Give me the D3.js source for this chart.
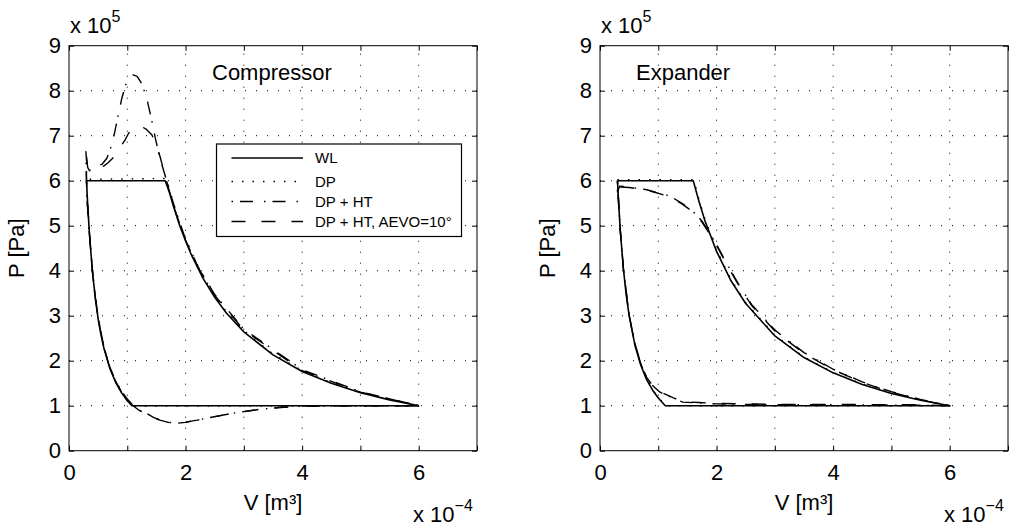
<!DOCTYPE html>
<html><head><meta charset="utf-8">
<script src="https://cdn.jsdelivr.net/npm/d3@7"></script>
<style>
body{margin:0;background:#fff;}
svg{display:block;font-family:"Liberation Sans",Arial,Helvetica,sans-serif;}
</style></head>
<body>
<svg id="chart" width="1018" height="527"></svg>
<script>
// Units: V in 1e-4 m^3, P in 1e5 Pa
const xTicks = [0,1,2,3,4,5,6,7];
const yTicks = [0,1,2,3,4,5,6,7,8,9];
const xTickLabels = ["0","","2","","4","","6",""];
const yTickLabels = ["0","1","2","3","4","5","6","7","8","9"];
const seriesNames = ["WL","DP","DP + HT","DP + HT, AEVO=10°"];
const panelTitles = ["Compressor","Expander"];

// Compressor
const compWL = [[6,1],[5.5,1.13],[5,1.29],[4.5,1.5],[4,1.76],[3.5,2.13],[3,2.64],[2.7,3.06],[2.5,3.41],[2.3,3.83],[2.1,4.35],[2,4.66],[1.9,5.0],[1.8,5.4],[1.72,5.75],[1.65,6.0],
  [0.3,6.0],[0.32,5.48],[0.35,4.83],[0.4,4.01],[0.45,3.4],[0.5,2.93],[0.55,2.57],[0.6,2.27],[0.7,1.83],[0.8,1.52],[0.9,1.29],[1.0,1.11],[1.08,1.0],[6,1]];
const compDP = [[6,1],[5.5,1.14],[5,1.3],[4.5,1.51],[4,1.78],[3.5,2.15],[3,2.67],[2.7,3.09],[2.5,3.45],[2.3,3.88],[2.1,4.41],[2,4.72],[1.9,5.07],[1.8,5.47],[1.72,5.82],[1.67,6.05],
  [0.3,6.03],[0.32,5.5],[0.35,4.86],[0.4,4.05],[0.45,3.44],[0.5,2.97],[0.55,2.6],[0.6,2.3],[0.7,1.85],[0.8,1.53],[0.9,1.3],[1.0,1.12],[1.1,0.99],[6,0.99]];
const compDPHT = [[6,1],[5,1.31],[4,1.8],[3,2.7],[2.5,3.47],[2.2,4.12],[2,4.7],[1.85,5.25],[1.72,5.8],[1.63,6.2],[1.56,6.5],[1.48,6.95],[1.41,7.4],[1.33,7.85],[1.25,8.15],[1.17,8.32],[1.1,8.35],[1.03,8.28],[0.97,8.12],[0.91,7.85],[0.85,7.5],[0.78,7.05],[0.72,6.75],[0.65,6.5],[0.57,6.37],[0.48,6.32],[0.4,6.27],[0.35,6.22],[0.32,6.3],[0.3,6.45],[0.29,6.65],
  [0.295,6.2],[0.31,5.6],[0.33,5.25],[0.37,4.5],[0.42,3.75],[0.5,2.95],[0.6,2.3],[0.7,1.86],[0.8,1.55],[0.9,1.32],[1.0,1.15],[1.1,1.01],[1.2,0.9],[1.34,0.82],[1.45,0.74],[1.56,0.68],[1.7,0.63],[1.85,0.61],[2.0,0.63],[2.2,0.68],[2.47,0.75],[2.8,0.83],[3.28,0.92],[3.6,0.96],[4.0,0.99],[5,1.0],[6,1]];
const compAEVO = [[6,1],[5,1.3],[4,1.78],[3,2.68],[2.5,3.45],[2.2,4.1],[2,4.68],[1.85,5.22],[1.72,5.78],[1.64,6.15],[1.57,6.5],[1.5,6.8],[1.42,7.02],[1.33,7.14],[1.25,7.2],[1.17,7.2],[1.1,7.17],[1.02,7.05],[0.96,6.9],[0.88,6.75],[0.82,6.64],[0.75,6.5],[0.67,6.4],[0.6,6.33],[0.5,6.27],[0.42,6.22],[0.36,6.19],[0.32,6.3],[0.3,6.55],
  [0.3,6.1],[0.31,5.55],[0.33,5.2],[0.37,4.48],[0.42,3.72],[0.5,2.93],[0.6,2.29],[0.7,1.85],[0.8,1.54],[0.9,1.31],[1.0,1.14],[1.1,1.0],[1.2,0.9],[1.34,0.81],[1.45,0.74],[1.56,0.68],[1.7,0.63],[1.85,0.615],[2.0,0.635],[2.2,0.68],[2.47,0.75],[2.8,0.83],[3.28,0.92],[3.6,0.96],[4.0,0.99],[5,1.0],[6,1]];

// Expander
const expWL = [[0.3,6.0],[1.6,6.0],[1.7,5.53],[1.8,5.11],[2.0,4.43],[2.25,3.77],[2.5,3.27],[3.0,2.55],[3.5,2.07],[4.0,1.73],[4.5,1.47],[5.0,1.27],[5.5,1.12],[6.0,1.0],
  [1.12,1.0],[1.0,1.17],[0.9,1.35],[0.8,1.58],[0.7,1.9],[0.6,2.34],[0.5,3.0],[0.45,3.46],[0.4,4.06],[0.35,4.86],[0.32,5.49],[0.3,6.0]];
const expDP = [[0.3,6.02],[1.61,6.02],[1.7,5.58],[1.8,5.15],[2.0,4.46],[2.25,3.8],[2.5,3.29],[3.0,2.57],[3.5,2.08],[4.0,1.74],[4.5,1.48],[5.0,1.28],[5.5,1.13],[6.0,1.0],
  [1.13,1.0],[1.0,1.18],[0.9,1.36],[0.8,1.59],[0.7,1.91],[0.6,2.35],[0.5,3.01],[0.45,3.47],[0.4,4.07],[0.35,4.87],[0.32,5.5],[0.3,6.02]];
const expDPHT = [[0.3,6.0],[0.3,5.75],[0.34,5.88],[0.5,5.86],[0.65,5.83],[0.8,5.8],[1.0,5.73],[1.2,5.66],[1.4,5.5],[1.55,5.37],[1.65,5.25],[1.75,5.1],[1.85,4.9],[2.0,4.58],[2.2,4.1],[2.4,3.65],[2.6,3.25],[3.0,2.68],[3.5,2.18],[4.0,1.81],[4.5,1.53],[5.0,1.31],[5.5,1.14],[6.0,1.0],
  [5.5,1.01],[5.0,1.01],[4.0,1.02],[3.0,1.02],[2.0,1.04],[1.7,1.06],[1.42,1.08],[1.25,1.17],[1.03,1.3],[0.89,1.46],[0.8,1.62],[0.7,1.93],[0.6,2.37],[0.5,3.0],[0.4,4.06],[0.35,4.86],[0.32,5.49],[0.3,6.0]];
const expAEVO = [[0.3,6.0],[0.3,5.73],[0.34,5.86],[0.5,5.85],[0.65,5.82],[0.8,5.79],[1.0,5.72],[1.2,5.64],[1.4,5.49],[1.55,5.35],[1.65,5.23],[1.75,5.08],[1.85,4.88],[2.0,4.56],[2.2,4.08],[2.4,3.63],[2.6,3.23],[3.0,2.66],[3.5,2.16],[4.0,1.8],[4.5,1.52],[5.0,1.3],[5.5,1.13],[6.0,1.0],
  [5.5,1.02],[5.0,1.02],[4.0,1.03],[3.0,1.03],[2.0,1.05],[1.7,1.07],[1.42,1.09],[1.25,1.18],[1.03,1.31],[0.89,1.47],[0.8,1.63],[0.7,1.94],[0.6,2.38],[0.5,3.01],[0.4,4.07],[0.35,4.87],[0.32,5.5],[0.3,6.0]];

const styles = [
  {dash:null, w:1.6, off:0},
  {dash:"1.5,9", w:1.4, off:0},
  {dash:"1.5,7,13,11", w:1.4, off:0},
  {dash:"14,16", w:1.4, off:11}
];

const svg = d3.select("#chart");
const font = '"Liberation Sans",Arial,Helvetica,sans-serif';

function panel(x0, x1, data, title, titleX, legend){
  const y0 = 45.7, y1 = 450.7;
  const x = d3.scaleLinear().domain([0,7]).range([x0,x1]);
  const y = d3.scaleLinear().domain([0,9]).range([y1,y0]);
  const g = svg.append("g");

  // grid
  const grid = g.append("g").attr("stroke","#000").attr("stroke-width",1).attr("stroke-dasharray","1,10");
  xTicks.slice(1,-1).forEach(t=>{
    grid.append("line").attr("x1",x(t)).attr("x2",x(t)).attr("y1",y1).attr("y2",y0);
  });
  yTicks.slice(1,-1).forEach(t=>{
    grid.append("line").attr("x1",x0).attr("x2",x1).attr("y1",y(t)).attr("y2",y(t));
  });

  // axes
  const ax = g.append("g").attr("transform",`translate(0,${y1})`)
    .call(d3.axisBottom(x).tickValues(xTicks).tickSize(-5).tickPadding(10).tickFormat((d,i)=>xTickLabels[i]));
  const axT = g.append("g").attr("transform",`translate(0,${y0})`)
    .call(d3.axisTop(x).tickValues(xTicks).tickSize(-5).tickFormat(""));
  const ay = g.append("g").attr("transform",`translate(${x0},0)`)
    .call(d3.axisLeft(y).tickValues(yTicks).tickSize(-5).tickPadding(8).tickFormat((d,i)=>yTickLabels[i]));
  const ayR = g.append("g").attr("transform",`translate(${x1},0)`)
    .call(d3.axisRight(y).tickValues(yTicks).tickSize(-5).tickFormat(""));
  [ax,axT,ay,ayR].forEach(a=>{
    a.select(".domain").remove();
    a.selectAll("line").attr("stroke","#000");
    a.selectAll("text").attr("font-size",22).attr("font-family",font).attr("fill","#000");
  });
  ax.selectAll("text").attr("dy","0.72em").attr("y",13);
  ay.selectAll("text").attr("x",-8);

  g.append("rect").attr("x",x0).attr("y",y0).attr("width",x1-x0).attr("height",y1-y0)
    .attr("fill","none").attr("stroke","#000").attr("stroke-width",1);

  // curves
  const line = d3.line().x(d=>x(d[0])).y(d=>y(d[1]));
  data.forEach((s,i)=>{
    g.append("path").attr("d",line(s)).attr("fill","none").attr("stroke","#000")
      .attr("stroke-width",styles[i].w).attr("stroke-dasharray",styles[i].dash)
      .attr("stroke-dashoffset",styles[i].off)
      .attr("stroke-linejoin","round");
  });

  // title
  g.append("text").attr("x",titleX).attr("y",80).attr("font-size",22).text(title);

  // exponent labels
  const e1 = g.append("text").attr("x",x0+1).attr("y",33).attr("font-size",22);
  e1.append("tspan").text("x 10");
  e1.append("tspan").attr("font-size",16).attr("dy",-11).text("5");
  const e2 = g.append("text").attr("x",x1-64).attr("y",522).attr("font-size",22);
  e2.append("tspan").text("x 10");
  e2.append("tspan").attr("font-size",16).attr("dy",-11).text("\u22124");

  // axis labels
  g.append("text").attr("x",(x0+x1)/2).attr("y",510).attr("text-anchor","middle").attr("font-size",22).text("V [m³]");
  g.append("text").attr("transform",`translate(${x0-45},${(y0+y1)/2}) rotate(-90)`).attr("text-anchor","middle").attr("font-size",22).text("P [Pa]");

  if(legend){
    const lg = g.append("g");
    lg.append("rect").attr("x",216.5).attr("y",144).attr("width",245).attr("height",92.5)
      .attr("fill","#fff").attr("stroke","#000").attr("stroke-width",1.2);
    const ys = [158,181.5,201.5,221.5];
    seriesNames.forEach((n,i)=>{
      lg.append("line").attr("x1",231.5).attr("x2",303).attr("y1",ys[i]).attr("y2",ys[i])
        .attr("stroke","#000").attr("stroke-width",styles[i].w).attr("stroke-dasharray",styles[i].dash);
      lg.append("text").attr("x",315).attr("y",ys[i]).attr("dy","0.36em").attr("font-size",15).text(n);
    });
  }
}

panel(69, 477, [compWL,compDP,compDPHT,compAEVO], panelTitles[0], 212, true);
panel(600, 1008, [expWL,expDP,expDPHT,expAEVO], panelTitles[1], 636, false);
</script>
</body></html>
